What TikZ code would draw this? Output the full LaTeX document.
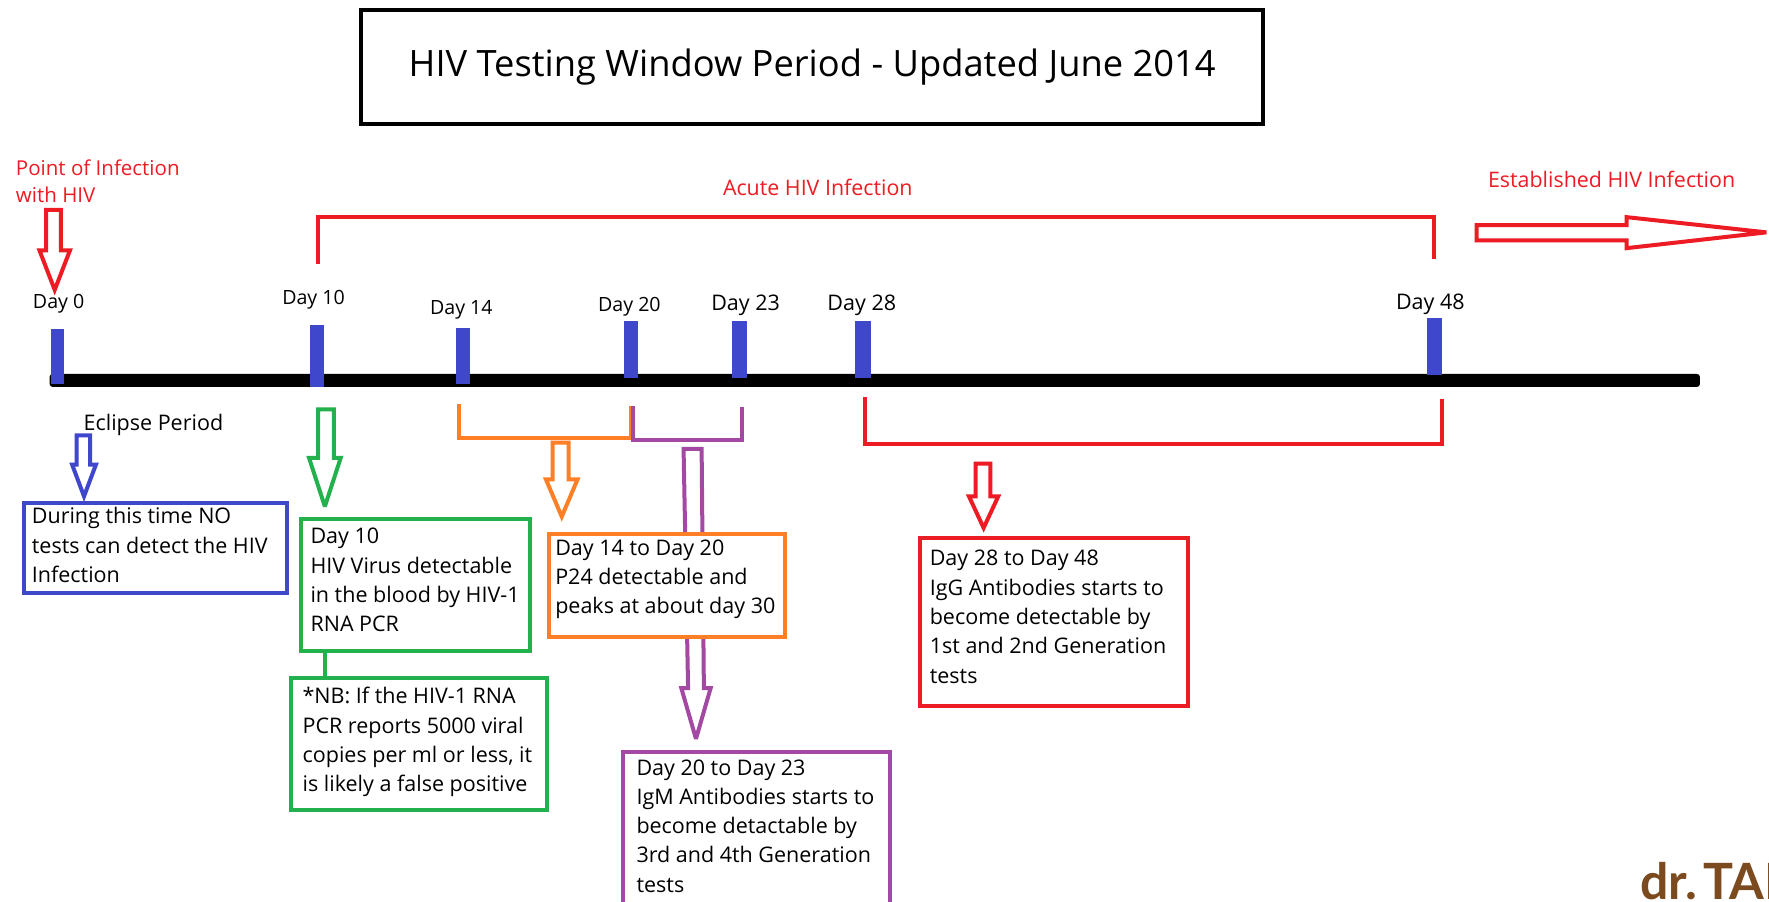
\documentclass[tikz,border=0pt]{standalone}
\usepackage{fontspec}
\setmainfont{Open Sans}
\newfontfamily\logofont{Lato}
\usetikzlibrary{calc}
\definecolor{cred}{HTML}{ED1C24}
\definecolor{cblue}{HTML}{3F48CC}
\definecolor{cgreen}{HTML}{22B14C}
\definecolor{corange}{HTML}{FF7F27}
\definecolor{cpurple}{HTML}{A349A4}
\definecolor{clogo}{HTML}{7B4A1E}
\newcommand{\bodyfont}{\fontsize{21.5}{29.3}\selectfont}
% width, height, left pad, top pad (reference units), text
\newcommand{\tbox}[5]{\hspace*{\dimexpr #3pt*1128/1000\relax}\parbox[c][\dimexpr #2pt*1128/1000\relax][t]{\dimexpr #1pt*1128/1000 - #3pt*1128/1000\relax}{\raggedright\vspace*{#4pt}\strut #5}}
% colour, shaft left, shaft right, top, shoulder, head left, head right, tip
\newcommand{\blockarrow}[8]{\draw[arrowline,#1] (#2,#4) -- (#3,#4) -- (#3,#5) -- (#7,#5) -- ({(#6+#7)/2},#8) -- (#6,#5) -- (#2,#5) -- cycle;}
\tikzset{
  x=1.128pt,y=-1.128pt,
  arrowline/.style={line width=4pt,fill=white,line join=miter,miter limit=3},
  infobox/.style={draw=#1,line width=4pt,fill=white,inner sep=0pt,anchor=north west,font=\bodyfont,text=black},
  tick/.style={fill=cblue},
  bracket/.style={draw=#1,line width=4pt,line join=miter},
  daylabel/.style={font=\fontsize{19.6}{22}\selectfont,text=black,inner sep=0pt},
  daylabelb/.style={font=\fontsize{21.5}{24}\selectfont,text=black,inner sep=0pt},
  redlabel/.style={font=\fontsize{21.4}{27}\selectfont,text=cred,inner sep=0pt,align=left},
}
\begin{document}
\begin{tikzpicture}
\useasboundingbox (0,0) rectangle (1568.26,798.76);
\fill[white] (0,0) rectangle (1568.26,798.76);
\clip (0,0) rectangle (1568.26,798.76);

% title
\node[draw=black,line width=4pt,inner sep=0pt,minimum width=902pt,minimum height=114pt,font=\fontsize{36.3}{40}\selectfont] (title) at (720,59.5) {\raisebox{-1pt}{HIV Testing Window Period - Updated June 2014}};

% top labels
\node[redlabel,font=\fontsize{20.5}{27}\selectfont,anchor=west] (poi) at (14,161) {Point of Infection\\with HIV};
\node[redlabel] (acute) at (725,166) {Acute HIV Infection};
\node[redlabel,anchor=west] (est) at (1319,159) {Established HIV Infection};

\draw[bracket=cred] (282,234) -- (282,192) -- (1271,192) -- (1271,230);
\blockarrow{draw=cred}{41}{54}{186}{222}{35}{62}{257}
\draw[arrowline,draw=cred] (1309,199.5) -- (1442,199.5) -- (1442,192.5) -- (1566,206) -- (1442,220) -- (1442,213) -- (1309,213) -- cycle;

% timeline
\fill[black,rounded corners=3pt] (44,331.5) rectangle (1507,343);
\fill[tick] (45,292) rectangle (57,340);
\fill[tick] (275,288) rectangle (287,343);
\fill[tick] (404,291) rectangle (417,340);
\fill[tick] (553,285) rectangle (566,335);
\fill[tick] (649,285) rectangle (662,335);
\fill[tick] (758,285) rectangle (772,335);
\fill[tick] (1265,282) rectangle (1278,332);

\node[daylabel] (d0) at (52,269) {Day 0};
\node[daylabel] (d10) at (278,266) {Day 10};
\node[daylabel] (d14) at (409,275) {Day 14};
\node[daylabel] (d20) at (558,272) {Day 20};
\node[daylabelb] (d23) at (661,271) {Day 23};
\node[daylabelb] (d28) at (764,271) {Day 28};
\node[daylabelb] (d48) at (1268,270) {Day 48};

% brackets below the line
\draw[bracket=corange] (407,358) -- (407,388) -- (559,388) -- (559,360);
\draw[bracket=cpurple] (561,360) -- (561,390) -- (658,390) -- (658,361);
\draw[bracket=cred] (767,352) -- (767,394) -- (1278,394) -- (1278,354);

% eclipse
\node[font=\bodyfont,inner sep=0pt,anchor=west] (ecl) at (74,377) {Eclipse Period};
\blockarrow{draw=cblue}{68}{80}{386}{412}{64}{85}{440}
\node[infobox=cblue] (blue) at (19.5,444.5) {\tbox{233}{79}{7}{0}{During this time NO\\tests can detect the HIV\\Infection}};

% green
\blockarrow{draw=cgreen}{282}{296}{363}{406}{274}{302}{449}
\node[infobox=cgreen] (green) at (265.5,458.5) {\tbox{203}{117}{8}{4}{Day 10\\HIV Virus detectable\\in the blood by HIV-1\\RNA PCR}};
\node[infobox=cgreen] (nb) at (256.5,599.5) {\tbox{227}{117}{10}{5}{*NB: If the HIV-1 RNA\\PCR reports 5000 viral\\copies per ml or less, it\\is likely a false positive}};
\coordinate (gc) at (288,577);
\draw[draw=cgreen,line width=4pt] (gc) -- (gc |- nb.north);

% purple arrow passes behind the orange box
\draw[arrowline,draw=cpurple] (606,398) -- (622,398) -- (624,610) -- (630,610) -- (617,655) -- (604,610) -- (610,610) -- cycle;

% orange
\blockarrow{draw=corange}{490}{504}{392.5}{425}{484}{512}{458}
\node[infobox=corange] (orange) at (484.5,471.5) {\tbox{210}{91}{6}{1}{Day 14 to Day 20\\P24 detectable and\\peaks at about day 30}};

% purple box
\node[infobox=cpurple] (purple) at (550.5,664.5) {\tbox{237}{150}{12}{3}{Day 20 to Day 23\\IgM Antibodies starts to\\become detactable by\\3rd and 4th Generation\\tests}};

% red
\blockarrow{draw=cred}{865}{878}{411}{440}{859}{885}{468}
\node[infobox=cred] (red) at (813.5,475.5) {\tbox{238}{149}{9}{7}{Day 28 to Day 48\\IgG Antibodies starts to\\become detectable by\\1st and 2nd Generation\\tests}};

% logo
\node[font=\logofont\bfseries\fontsize{50}{54}\selectfont,text=clogo,inner sep=0pt,anchor=base west] (logo) at (1454,797) {dr.\kern-6pt\ TAI};
\end{tikzpicture}
\end{document}
